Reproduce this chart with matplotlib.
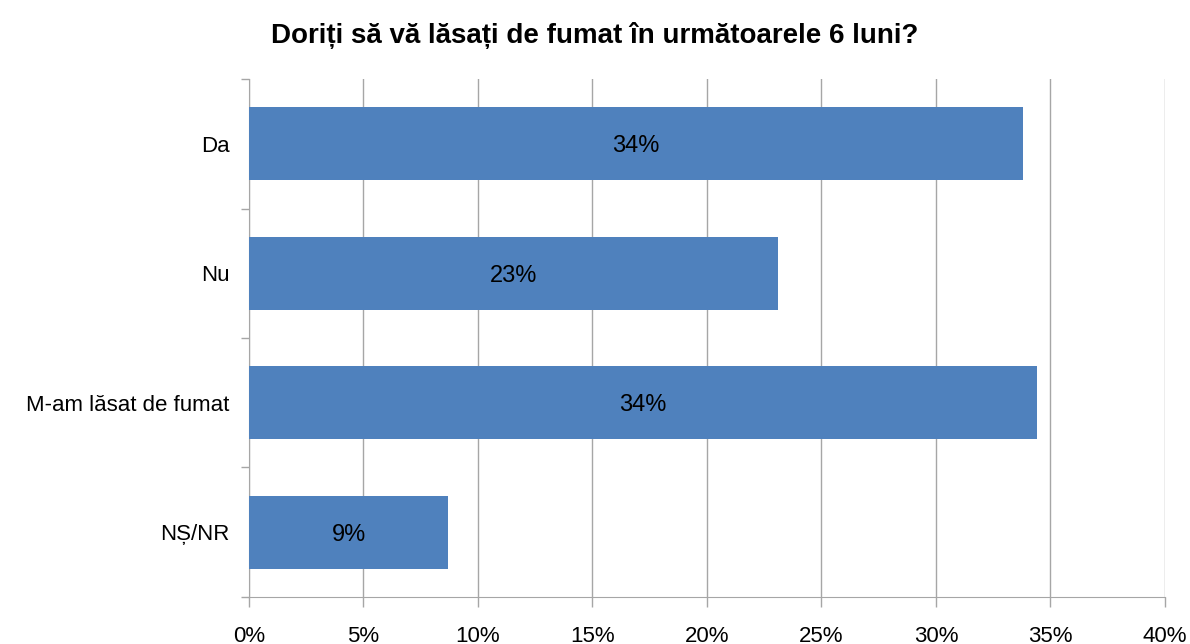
import matplotlib.pyplot as plt
import numpy as np

plt.rcParams['font.family'] = ['Liberation Sans', 'DejaVu Sans']

# Date
categorii = ['Da', 'Nu', 'M-am lăsat de fumat', 'NȘ/NR']
valori = [33.8, 23.1, 34.4, 8.7]
etichete = ['34%', '23%', '34%', '9%']
x_ticks = [0, 5, 10, 15, 20, 25, 30, 35, 40]

gri = '#a6a6a6'
albastru = '#4f81bd'

fig = plt.figure(figsize=(11.9, 6.44), dpi=100)
ax = fig.add_axes([0.2092, 0.073, 0.7697, 0.8043])

y = np.arange(len(categorii))
bare = ax.barh(y, valori, height=0.565, color=albastru, zorder=3)
for b, t in zip(bare, etichete):
    ax.text(b.get_width() / 2, b.get_y() + b.get_height() / 2 + 0.02, t,
            ha='center', va='center', fontsize=17, color='black', zorder=4)

ax.set_xlim(0, 40)
ax.set_ylim(len(categorii) - 0.5, -0.5)
ax.set_xticks(x_ticks)
ax.set_xticklabels([f'{v}%' for v in x_ticks], fontsize=16)
ax.set_yticks(y)
ax.set_yticklabels(categorii, fontsize=16)
ax.set_yticks(np.arange(len(categorii) + 1) - 0.5, minor=True)

ax.grid(axis='x', color=gri, linewidth=1, zorder=0)
ax.tick_params(axis='y', which='major', length=0, pad=14)
ax.tick_params(axis='y', which='minor', length=6, color=gri, width=1)
ax.tick_params(axis='x', length=7, color=gri, width=1, pad=14)

for s in ['top', 'right']:
    ax.spines[s].set_visible(False)
for s in ['left', 'bottom']:
    ax.spines[s].set_color(gri)

fig.text(0.5, 0.945, 'Doriți să vă lăsați de fumat în următoarele 6 luni?',
         ha='center', va='center', fontsize=20, fontweight='bold')

fig.savefig('out.png', dpi=100)
